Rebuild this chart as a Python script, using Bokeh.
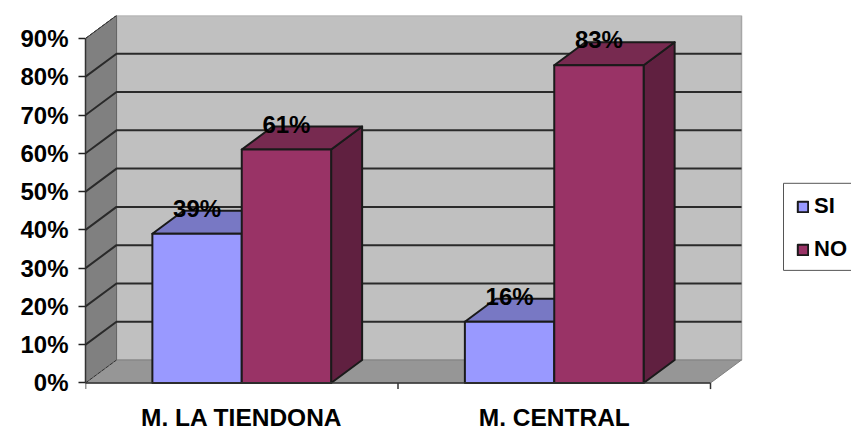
from bokeh.embed import file_html
from bokeh.resources import INLINE
from bokeh.plotting import figure
from bokeh.models import Range1d, FixedTicker, LinearAxis, Legend, LegendItem
from bokeh.core.properties import value

categories = ["M. LA TIENDONA", "M. CENTRAL"]
si_values = [39, 16]
no_values = [61, 83]
y_ticks = [0, 10, 20, 30, 40, 50, 60, 70, 80, 90]

FONT = "Liberation Sans"
DX, DY = 0.0992, 6.0     # depth of the 3D projection in data units
BAR_W = 0.286
Y_MAX = 90
TICK_LEN = 1.6
N = len(categories)
X_END, Y_START = 2.4512, -12.68

# the plotting frame reaches the right and bottom page edges so that the
# category names and the legend can share it with the 3D box
p = figure(width=851, height=431, output_backend="svg", toolbar_location=None,
           x_range=Range1d(0, X_END), y_range=Range1d(Y_START, Y_MAX + DY),
           x_axis_type=None, y_axis_type=None,
           min_border_left=85, min_border_right=0, min_border_top=15, min_border_bottom=0,
           background_fill_color=None, border_fill_color="white", outline_line_color=None)
p.grid.visible = False

# chart box: back wall, side wall, floor
p.patch([DX, N + DX, N + DX, DX], [DY, DY, Y_MAX + DY, Y_MAX + DY],
        fill_color="#C0C0C0", line_color="#A6A6A6", line_width=1.5)
p.patch([0, DX, DX, 0], [0, DY, Y_MAX + DY, Y_MAX],
        fill_color="#808080", line_color="#666666", line_width=1)
p.patch([0, DX, N + DX, N], [0, DY, DY, 0],
        fill_color="#969696", line_color="#808080", line_width=1)

# gridlines run along the side wall and across the back wall
for t in y_ticks:
    if 0 < t < Y_MAX:
        p.line([0, DX, N + DX], [t, t + DY, t + DY], line_color="#2A2A2A", line_width=2)
p.line([0, DX], [Y_MAX, Y_MAX + DY], line_color="#222222", line_width=1, line_dash="4 1")
p.line([0, DX], [0, DY], line_color="#333333", line_width=1, line_dash="4 1")


def bar(x0, top, front, roof, side):
    x1 = x0 + BAR_W
    edge = dict(line_color="#1A1A1A", line_width=2, line_join="round")
    p.patch([x1, x1 + DX, x1 + DX, x1], [0, DY, top + DY, top], fill_color=side, **edge)
    p.patch([x0, x0 + DX, x1 + DX, x1], [top, top + DY, top + DY, top], fill_color=roof, **edge)
    return p.quad(left=x0, right=x1, bottom=0, top=top, fill_color=front, **edge)


si_front = no_front = None
for i in range(N):
    center = i + 0.5
    si_front = bar(center - BAR_W, si_values[i], "#9999FF", "#7878C4", "#5E5E9E")
    no_front = bar(center, no_values[i], "#993366", "#772A50", "#602040")

# value labels sit above each bar's front edge
label_x, label_y, label_text = [], [], []
for i in range(N):
    label_x += [i + 0.5 - BAR_W / 2, i + 0.5 + BAR_W / 2]
    label_y += [si_values[i] + 6.6, no_values[i] + 6.6]
    label_text += [f"{si_values[i]}%", f"{no_values[i]}%"]
p.text(label_x, label_y, label_text, text_font=value(FONT), text_font_style="bold",
       text_font_size="24px", text_color="black", text_align="center", text_baseline="middle")

# value axis on the front edge of the box
y_axis = LinearAxis(ticker=FixedTicker(ticks=y_ticks), bounds=(0, Y_MAX),
                    major_label_overrides={t: f"{t}%" for t in y_ticks},
                    axis_line_color="#333333", axis_line_width=1.5,
                    major_tick_in=0, major_tick_out=7, major_tick_line_color="#222222",
                    major_tick_line_width=1.5, minor_tick_line_color=None,
                    major_label_standoff=10, major_label_text_font=FONT,
                    major_label_text_font_style="bold", major_label_text_font_size="24px",
                    major_label_text_color="black")
p.add_layout(y_axis, "left")

# category axis: baseline, boundary ticks and names centred between them
boundaries = list(range(N + 1))
p.line([0, N], [0, 0], line_color="#333333", line_width=1.5)
p.segment(boundaries, [0] * (N + 1), boundaries, [-TICK_LEN] * (N + 1),
          line_color="#333333", line_width=1.5)
p.text([i + 0.5 for i in range(N)], [0] * N, categories, y_offset=35,
       text_font=value(FONT), text_font_style="bold", text_font_size="24.5px",
       text_color="black", text_align="center", text_baseline="middle")

# legend panel runs off the right page edge
p.quad(left=2.2336, right=X_END + 0.1, bottom=29.41, top=52.16,
       fill_color="white", line_color="#555555", line_width=1)
legend = Legend(items=[LegendItem(label="SI", renderers=[si_front]),
                       LegendItem(label="NO", renderers=[no_front])],
                location=(711, 169), orientation="vertical", margin=0, padding=8,
                spacing=17, glyph_width=13, glyph_height=13, label_standoff=5,
                label_height=18, label_text_font=FONT, label_text_font_style="bold",
                label_text_font_size="22px", label_text_color="black",
                border_line_color=None, background_fill_alpha=0)
p.add_layout(legend, "center")

open("out.html", "w").write(file_html(p, INLINE))
